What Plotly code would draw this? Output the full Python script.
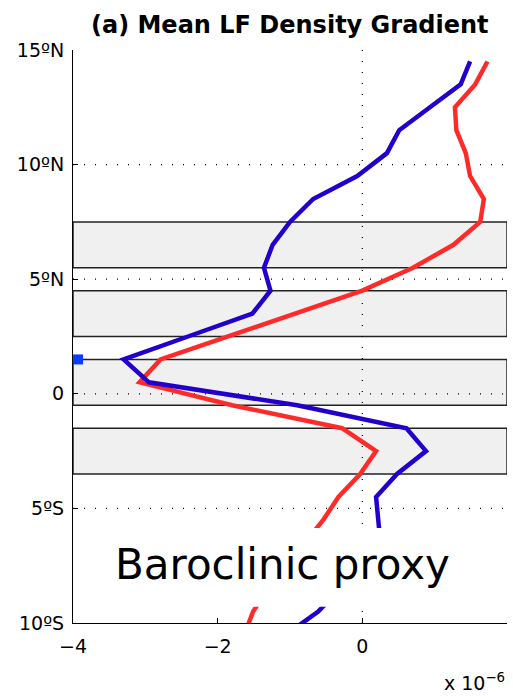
import plotly.graph_objects as go

# ---- data ----
lat = [14.5, 13.5, 12.5, 11.5, 10.5, 9.5, 8.5, 7.5, 6.5, 5.5, 4.5, 3.5, 2.5, 1.5,
       0.5, -0.5, -1.5, -2.5, -3.5, -4.5, -5.5, -6.5, -7.5, -8.5, -9.5, -10.5]
blue_vals = [1.49, 1.36, 0.935, 0.51, 0.34, -0.07, -0.68, -1.0, -1.24, -1.36, -1.27, -1.52, -2.41, -3.30,
             -2.95, -0.9, 0.61, 0.88, 0.48, 0.19, 0.22, 0.25, 0.0, -0.3, -0.61, -1.05]
red_vals = [1.73, 1.56, 1.28, 1.30, 1.43, 1.49, 1.68, 1.63, 1.26, 0.70, 0.0, -0.93, -1.83, -2.79,
            -3.08, -1.8, -0.28, 0.19, -0.03, -0.33, -0.54, -0.8, -1.05, -1.3, -1.51, -1.63]
band_lo = [5.5, 2.5, -0.5, -3.5]
band_hi = [7.5, 4.5, 1.5, -1.5]
marker_x = [-3.93]
marker_y = [1.5]
x_ticks = [-4, -2, 0, 2]
x_ticktext = ["\u22124", "\u22122", "0", "2"]
y_ticks = [-10, -5, 0, 5, 10, 15]
y_ticktext = ["10\u00baS", "5\u00baS", "0", "5\u00baN", "10\u00baN", "15\u00baN"]
grid_y = [10, 5, 0, -5]

FONT = "DejaVu Sans"

fig = go.Figure()
fig.add_trace(go.Scatter(x=red_vals, y=lat, mode="lines",
                         line=dict(color="#FF2B2B", width=4.5), showlegend=False))
fig.add_trace(go.Scatter(x=blue_vals, y=lat, mode="lines",
                         line=dict(color="#2200CC", width=4.5), showlegend=False))
fig.add_trace(go.Scatter(x=marker_x, y=marker_y, mode="markers", cliponaxis=False,
                         marker=dict(symbol="square", size=10, color="#0A3CFF"),
                         showlegend=False))

shapes = []
for lo, hi in zip(band_lo, band_hi):
    shapes.append(dict(type="rect", xref="x", yref="y", x0=-4, x1=2, y0=lo, y1=hi,
                       fillcolor="#F0F0F0", line=dict(color="#222222", width=1.5),
                       layer="below"))
for gy in grid_y:
    shapes.append(dict(type="line", xref="x", yref="y", x0=-4, x1=2, y0=gy, y1=gy,
                       line=dict(color="black", width=1.2, dash="1px,10px"), layer="below"))
shapes.append(dict(type="line", xref="x", yref="y", x0=0, x1=0, y0=-10, y1=15,
                   line=dict(color="black", width=1.2, dash="1px,10px"), layer="below"))
# white background of the label
shapes.append(dict(type="rect", xref="x", yref="y", x0=-3.5, x1=1.6, y0=-9.29, y1=-5.85,
                   fillcolor="white", line=dict(width=0), layer="above"))

fig.update_layout(
    width=513, height=697,
    margin=dict(l=73, r=6, t=50, b=74),
    paper_bgcolor="white", plot_bgcolor="white",
    shapes=shapes,
    xaxis=dict(range=[-4, 2], tickvals=x_ticks, ticktext=x_ticktext, automargin=False,
               showgrid=False, zeroline=False, showline=True, linecolor="black",
               linewidth=1, ticks="inside", ticklen=5, tickcolor="black",
               tickfont=dict(family=FONT, size=19, color="black"),
               ticklabelstandoff=6),
    yaxis=dict(range=[-10, 15], tickvals=y_ticks, ticktext=y_ticktext, automargin=False,
               showgrid=False, zeroline=False, showline=True, linecolor="black",
               linewidth=1, ticks="inside", ticklen=5, tickcolor="black",
               tickfont=dict(family=FONT, size=19, color="black"),
               ticklabelstandoff=4),
    annotations=[
        dict(text="<b>(a) Mean LF Density Gradient</b>", xref="paper", yref="paper",
             x=0.5, y=1.044, xanchor="center", yanchor="middle", showarrow=False,
             font=dict(family=FONT, size=24, color="black")),
        dict(text="Baroclinic proxy", xref="paper", yref="y",
             x=0.4827, y=-7.45, xanchor="center", yanchor="middle", showarrow=False,
             font=dict(family=FONT, size=42, color="black")),
        dict(text="x 10<sup>\u22126</sup>", xref="paper", yref="paper",
             x=1.0, y=-0.128, xanchor="right", yanchor="bottom", showarrow=False,
             font=dict(family=FONT, size=19, color="black")),
    ],
)

fig.write_html("out.html", config={"displayModeBar": False},
               post_script="document.body.style.margin='0px';document.body.style.overflow='hidden';")
